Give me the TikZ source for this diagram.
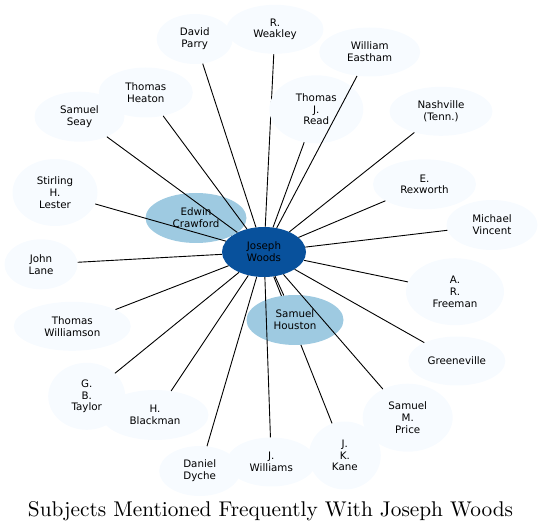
\documentclass[tikz,border=0pt]{standalone}
\usepackage{fontspec}
\newfontfamily\nodefont{DejaVu Sans}
\newfontfamily\titlefont{lmroman10-regular}[Extension=.otf]
\usetikzlibrary{shapes.geometric}
\definecolor{outerfill}{HTML}{F7FBFF}
\definecolor{midfill}{HTML}{9ECAE1}
\definecolor{hubfill}{HTML}{08519C}
\pgfdeclarelayer{bg}
\pgfdeclarelayer{fg}
\pgfsetlayers{bg,main,fg}
\begin{document}
\begin{tikzpicture}[x=1pt,y=-1pt,
  ent/.style={ellipse, inner sep=0pt, draw=none, font=\nodefont\fontsize{10.3}{11.8}\selectfont, align=center, text=black},
  outer/.style={ent, fill=outerfill},
  mid/.style={ent, fill=midfill},
  hub/.style={ent, fill=hubfill},
  sz/.style 2 args={minimum width=#1pt, minimum height=#2pt},
  link/.style={draw=black, line width=0.9pt},
  titlestyle/.style={font=\titlefont\fontsize{21.3}{25}\selectfont, inner sep=0pt, anchor=base}]
\useasboundingbox (0,0) rectangle (542,532);

\node[hub, sz={84}{50}] (woods) at (264,252) {Joseph\\Woods};
\node[mid, sz={101}{50}] (edwin) at (196,218) {Edwin\\Crawford};
\node[mid, sz={97}{50}] (houston) at (295,320) {Samuel\\Houston};

\node[outer, sz={76}{50}] (parry) at (194.7,39) {David\\Parry};
\node[outer, sz={97}{49}] (weakley) at (275,29.3) {R.\\Weakley};
\node[outer, sz={101}{49}] (eastham) at (369.7,52) {William\\Eastham};
\node[outer, sz={94}{68}] (read) at (316.3,109.3) {Thomas\\J.\\Read};
\node[outer, sz={103}{49}] (nashville) at (441,111.3) {Nashville\\(Tenn.)};
\node[outer, sz={103}{50}] (rexworth) at (424.5,184.3) {E.\\Rexworth};
\node[outer, sz={91}{50}] (vincent) at (492,225) {Michael\\Vincent};
\node[outer, sz={98}{67}] (freeman) at (455,291.7) {A.\\R.\\Freeman};
\node[outer, sz={97}{49}] (greeneville) at (456.8,361) {Greeneville};
\node[outer, sz={90}{68}] (price) at (407.7,417.7) {Samuel\\M.\\Price};
\node[outer, sz={89}{49}] (williams) at (271.3,462) {J.\\Williams};
\node[outer, sz={72}{68}] (kane) at (344.8,455.5) {J.\\K.\\Kane};
\node[outer, sz={81}{50}] (dyche) at (199.7,471) {Daniel\\Dyche};
\node[outer, sz={107}{50}] (blackman) at (155,415) {H.\\Blackman};
\node[outer, sz={77}{67}] (taylor) at (86.7,396.3) {G.\\B.\\Taylor};
\node[outer, sz={117}{49}] (williamson) at (72.3,326.3) {Thomas\\Williamson};
\node[outer, sz={73}{50}] (lane) at (41,264.3) {John\\Lane};
\node[outer, sz={85}{67}] (lester) at (55,192.5) {Stirling\\H.\\Lester};
\node[outer, sz={90}{50}] (seay) at (79.5,116.7) {Samuel\\Seay};
\node[outer, sz={94}{50}] (heaton) at (145.8,92.5) {Thomas\\Heaton};

\begin{pgfonlayer}{bg}
\draw[link] (woods) -- (kane);
\draw[link] (woods) -- (weakley);
\end{pgfonlayer}
\begin{pgfonlayer}{fg}
\draw[link] (woods) -- (edwin);
\draw[link] (woods) -- (houston);
\draw[link] (woods) -- (parry);
\draw[link] (woods) -- (eastham);
\draw[link] (woods) -- (read);
\draw[link] (woods) -- (nashville);
\draw[link] (woods) -- (rexworth);
\draw[link] (woods) -- (vincent);
\draw[link] (woods) -- (freeman);
\draw[link] (woods) -- (greeneville);
\draw[link] (woods) -- (price);
\draw[link] (woods) -- (williams);
\draw[link] (woods) -- (dyche);
\draw[link] (woods) -- (blackman);
\draw[link] (woods) -- (taylor);
\draw[link] (woods) -- (williamson);
\draw[link] (woods) -- (lane);
\draw[link] (woods) -- (lester);
\draw[link] (woods) -- (seay);
\draw[link] (woods) -- (heaton);
\end{pgfonlayer}

\node[titlestyle] (title) at (270.5,516) {Subjects Mentioned Frequently With Joseph Woods};
\end{tikzpicture}
\end{document}
